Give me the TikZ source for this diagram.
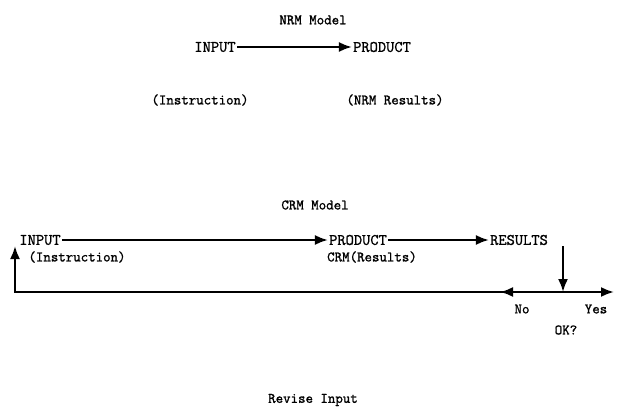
\documentclass[tikz,border=0pt]{standalone}
\usepackage{fontspec}
\newfontfamily\typefont{Latin Modern Mono}[FakeBold=1.3]
\usepackage{tikz}
\usetikzlibrary{arrows.meta}

\begin{document}
\begin{tikzpicture}
    [x = 1pt, y = -1pt,
     every node/.style = {inner sep = 1pt, font = \typefont\fontsize{14.5}{16}\selectfont},
     caps/.style = {font = \typefont\fontsize{16}{18}\selectfont},
     flow/.style = {line width = 2.2pt, -{Latex[length = 13pt, width = 10pt]}}]
    \useasboundingbox (0,0) rectangle (626,417);
    % NRM model
    \node (nrm) at (313,20) {NRM Model};
    \node[caps] (in1) at (215,47) {INPUT};
    \node[caps] (pr1) at (382,47) {PRODUCT};
    \node (ins1) at (200,100) {(Instruction)};
    \node (res1) at (395,100) {(NRM Results)};
    \draw[flow] (in1) -- (pr1);
    % CRM model
    \node (crm) at (315,205) {CRM Model};
    \node[caps] (in2) at (40,240) {INPUT};
    \node[caps] (pr2) at (358,240) {PRODUCT};
    \node[caps] (rs2) at (519,240) {RESULTS};
    \node (ins2) at (77,257) {(Instruction)};
    \node (res2) at (372,257) {CRM(Results)};
    \draw[flow] (in2) -- (pr2);
    \draw[flow] (pr2) -- (rs2);
    % decision
    \coordinate (ok) at (563,292);
    \coordinate (nohd) at (500,292);
    \coordinate (yes) at (614,292);
    \coordinate (lowl) at (15,292);
    \coordinate (upl) at (15,246);
    \draw[flow] (rs2.south -| ok) -- (ok);
    \draw[flow] (ok) -- (lowl) -- (upl);
    \draw[flow] (ok) -- (nohd);
    \draw[flow] (ok) -- (yes);
    \node (no) at (522,309) {No};
    \node (ys) at (596,309) {Yes};
    \node (okq) at (566,330) {OK?};
    \node (rev) at (313,400) {Revise Input};
\end{tikzpicture}
\end{document}
